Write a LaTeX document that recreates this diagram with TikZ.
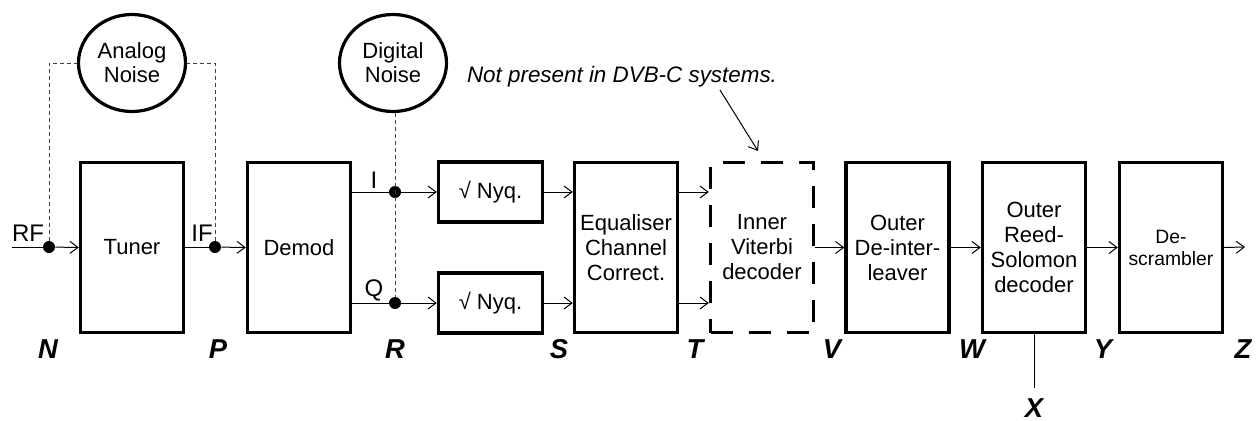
\documentclass[tikz,border=0pt]{standalone}
\usepackage{fontspec}
\setmainfont{Liberation Sans}
\usetikzlibrary{arrows.meta,shapes.geometric}
\begin{document}
\begin{tikzpicture}[x=0.75pt,y=-0.75pt,
  blk/.style={draw,line width=2.6pt,minimum width=77.25pt,minimum height=127.5pt,inner sep=0pt,align=center,font=\fontsize{16.5}{18.75}\selectfont},
  dashblk/.style={blk,dash pattern=on 16.5pt off 12pt},
  nyq/.style={draw,line width=2.6pt,minimum width=78pt,minimum height=45pt,inner sep=0pt,font=\fontsize{16.5}{18}\selectfont},
  noise/.style={draw,ellipse,line width=2.4pt,minimum width=80.25pt,minimum height=72.75pt,inner sep=0pt,align=center,font=\fontsize{16.5}{18}\selectfont},
  dot/.style={circle,fill,inner sep=0pt,minimum size=9pt},
  conn/.style={line width=0.75pt},
  arr/.style={conn,-{Straight Barb[length=6pt,width=9pt,line width=0.75pt]}},
  ndash/.style={line width=0.6pt,black!75,dash pattern=on 3pt off 2.25pt},
  pt/.style={font=\fontsize{20.5}{20.5}\bfseries\itshape\selectfont,inner sep=0pt},
  sig/.style={font=\fontsize{18}{18}\selectfont,inner sep=0pt}
]
\useasboundingbox (0,0) rectangle (1256,421);

% blocks
\node[blk] (tuner) at (132,247.5) {Tuner};
\node[blk] (demod) at (299,247.5) {Demod};
\node[nyq] (nyq1) at (490.5,192) {√ Nyq.};
\node[nyq] (nyq2) at (490.5,303) {√ Nyq.};
\node[blk] (eq) at (626,247.5) {Equaliser\\Channel\\Correct.};
\node[dashblk] (vit) at (762,247.5) {Inner\\Viterbi\\decoder};
\node[blk] (dil) at (897.5,247.5) {Outer\\De-inter-\\leaver};
\node[blk] (rs) at (1034,247.5) {Outer\\Reed-\\Solomon\\decoder};
\node[blk,font=\fontsize{14.5}{16.5}\selectfont] (dsc) at (1171,247.5) {De-\\scrambler};

% noise sources
\node[noise] (an) at (132,63) {Analog\\Noise};
\node[noise] (dn) at (393,63) {Digital\\Noise};

% junction dots
\node[dot] (rfd) at (49,247) {};
\node[dot] (ifd) at (215,247) {};
\node[dot] (id) at (395,192) {};
\node[dot] (qd) at (395,303) {};

\coordinate (in) at (12,247);
\coordinate (out) at (1245,247);
\coordinate (xend) at (1034,388);

% connectors
\draw[conn] (in) -- (rfd);
\draw[arr] (rfd) -- (tuner.west);
\draw[conn] (tuner.east |- ifd) -- (ifd);
\draw[arr] (ifd) -- (demod.west);
\draw[conn] (demod.east |- id) -- (id);
\draw[conn] (demod.east |- qd) -- (qd);
\draw[arr] (id) -- (nyq1.west);
\draw[arr] (qd) -- (nyq2.west);
\draw[arr] (nyq1.east) -- (eq.west |- nyq1.east);
\draw[arr] (nyq2.east) -- (eq.west |- nyq2.east);
\draw[arr] (eq.east |- nyq1.east) -- (vit.west |- nyq1.east);
\draw[arr] (eq.east |- nyq2.east) -- (vit.west |- nyq2.east);
\draw[arr] (vit.east) -- (dil.west);
\draw[arr] (dil.east) -- (rs.west);
\draw[arr] (rs.east) -- (dsc.west);
\draw[arr] (dsc.east) -- (out);
\draw[conn] (rs.south) -- (xend);

% noise injection
\draw[ndash] (rfd) |- (an.west);
\draw[ndash] (ifd) |- (an.east);
\draw[ndash] (id |- dn.south) -- (qd);

% signal labels
\node[sig] (rf) at (28,233) {RF};
\node[sig] (if) at (202,233) {IF};
\node[sig] (il) at (374,180) {I};
\node[sig] (ql) at (374,290) {Q};

% note
\node[font=\fontsize{16.8}{20}\itshape\selectfont,inner sep=0pt] (note) at (622,77) {Not present in DVB-C systems.};
\coordinate (ns) at (720,90);
\draw[arr] (ns) -- (758,151);

% point labels
\node[pt] (N) at (48,349) {N};
\node[pt] (P) at (218,349) {P};
\node[pt] (R) at (395,349) {R};
\node[pt] (S) at (559,349) {S};
\node[pt] (T) at (695,349) {T};
\node[pt] (V) at (832,349) {V};
\node[pt] (W) at (972,349) {W};
\node[pt] (Y) at (1103,349) {Y};
\node[pt] (Z) at (1243,349) {Z};
\node[pt] (X) at (1034,408) {X};
\end{tikzpicture}
\end{document}
